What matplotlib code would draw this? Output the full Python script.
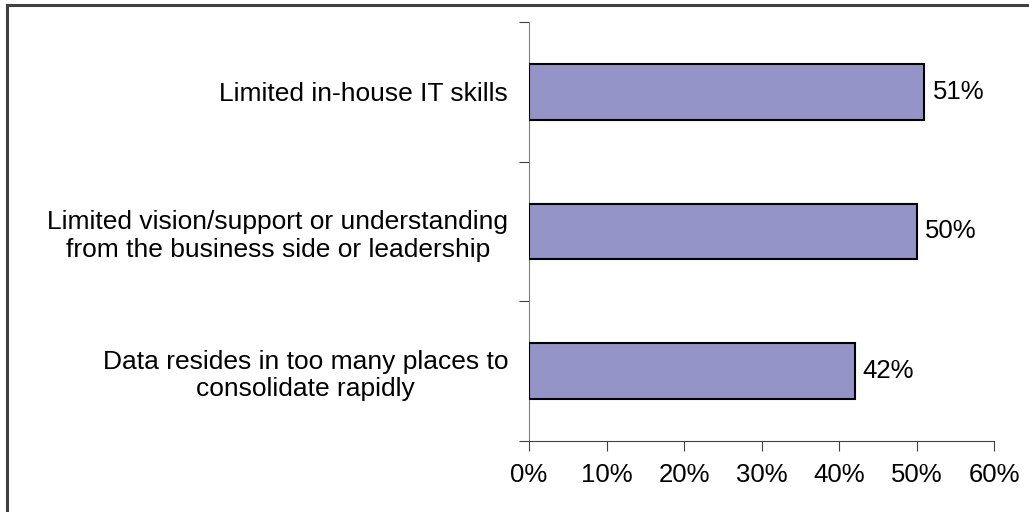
import matplotlib.pyplot as plt
from matplotlib.lines import Line2D

plt.rcParams['font.family'] = ['Liberation Sans', 'DejaVu Sans']

# data (top to bottom as shown)
categories = ['Limited in-house IT skills',
              'Limited vision/support or understanding\nfrom the business side or leadership',
              'Data resides in too many places to\nconsolidate rapidly']
values = [51, 50, 42]
xticks = [0, 10, 20, 30, 40, 50, 60]

fig = plt.figure(figsize=(10.29, 5.12), dpi=100)
ax = fig.add_axes([529 / 1029, 1 - 441 / 512, 465 / 1029, 419 / 512])

ypos = list(range(len(categories)))[::-1]
ax.barh(ypos, values, height=0.4, color='#9494C8', edgecolor='black', linewidth=1.5, zorder=3)

for y, v in zip(ypos, values):
    ax.annotate(f'{v}%', (v, y), xytext=(6, 0), textcoords='offset points',
                va='center', ha='left', fontsize=18.5)

ax.set_xlim(0, 60)
ax.set_ylim(-0.5, 2.5)
ax.set_xticks(xticks)
ax.set_xticklabels([f'{t}%' for t in xticks], fontsize=18.5)
ax.set_yticks([-0.5, 0.5, 1.5, 2.5])
ax.set_yticklabels([])
ax.set_yticks(ypos, minor=True)
ax.set_yticklabels(categories, minor=True, fontsize=19, multialignment='center')
ax.tick_params(axis='y', which='minor', length=0, pad=15)
ax.tick_params(axis='y', which='major', length=7, color='#404040', direction='out')
ax.tick_params(axis='x', length=7, color='#404040', pad=9)

for s in ['top', 'right']:
    ax.spines[s].set_visible(False)
ax.spines['left'].set_color('#808080')
ax.spines['bottom'].set_color('#404040')

# outer frame (left and top edges visible)
fig.add_artist(Line2D([6.5 / 1029, 6.5 / 1029], [0, 1 - 4.5 / 512], transform=fig.transFigure, color='#404040', lw=2.2))
fig.add_artist(Line2D([6.5 / 1029, 1], [1 - 4.5 / 512, 1 - 4.5 / 512], transform=fig.transFigure, color='#404040', lw=2.2))

fig.savefig('out.png', dpi=100)
